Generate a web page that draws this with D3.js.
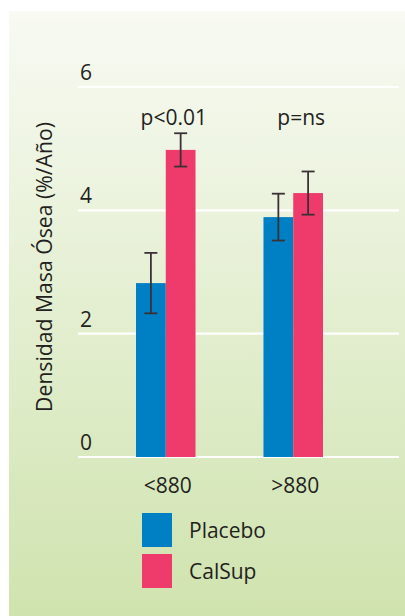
<!DOCTYPE html>
<html><head><meta charset="utf-8">
<script src="https://cdn.jsdelivr.net/npm/d3@7"></script>
<style>html,body{margin:0;padding:0;background:#fff;}svg{display:block;}</style>
</head><body>
<svg id="c" width="405" height="616"></svg>
<script>
const categories = ["<880", ">880"];
const series = ["Placebo", "CalSup"];
const placeboValues = [2.82, 3.89];
const calsupValues = [4.98, 4.28];
const placeboErr = [0.49, 0.38];
const calsupErr = [0.27, 0.35];
const pLabels = ["p<0.01", "p=ns"];
const yTicks = [0, 2, 4, 6];
const colors = ["#0080c4", "#ef3b6c"];

const svg = d3.select("#c");
const defs = svg.append("defs");
const grad = defs.append("linearGradient").attr("id","bg").attr("x1",0).attr("y1",0).attr("x2",0).attr("y2",1);
grad.append("stop").attr("offset","0%").attr("stop-color","#f8faf3");
grad.append("stop").attr("offset","100%").attr("stop-color","#cfe3ae");
svg.append("rect").attr("x",9).attr("y",11).attr("width",396).attr("height",605).attr("fill","url(#bg)");

const font = "'Open Sans', sans-serif";
const fs = 21;
const y = d3.scaleLinear().domain([0,6]).range([457,87]);
const x0 = d3.scaleBand().domain(categories).range([136,323]).paddingInner(0.533).paddingOuter(0);
const x1 = d3.scaleBand().domain(series).range([0, x0.bandwidth()]);

// gridlines
svg.append("g").selectAll("line").data(yTicks).join("line")
  .attr("x1",78).attr("x2",399).attr("y1",d=>y(d)).attr("y2",d=>y(d))
  .attr("stroke","#ffffff").attr("stroke-width",2.2);
svg.append("g").selectAll("text").data(yTicks).join("text")
  .attr("x",80).attr("y",d=>y(d)-7).text(d=>d)
  .attr("font-family",font).attr("font-size",fs).attr("fill","#231f20");

const data = categories.map((c,i)=>({cat:c, vals:[
  {s:"Placebo", v:placeboValues[i], e:placeboErr[i]},
  {s:"CalSup", v:calsupValues[i], e:calsupErr[i]}]}));

const g = svg.append("g").selectAll("g").data(data).join("g")
  .attr("transform",d=>`translate(${x0(d.cat)},0)`);
g.selectAll("rect").data(d=>d.vals).join("rect")
  .attr("x",d=>x1(d.s)).attr("width",x1.bandwidth())
  .attr("y",d=>y(d.v)).attr("height",d=>y(0)-y(d.v))
  .attr("fill",(d,i)=>colors[i]);
const eb = g.selectAll("g.eb").data(d=>d.vals).join("g").attr("class","eb")
  .attr("transform",d=>`translate(${x1(d.s)+x1.bandwidth()/2},0)`);
eb.append("line").attr("y1",d=>y(d.v+d.e)).attr("y2",d=>y(d.v-d.e));
eb.append("line").attr("x1",-6.5).attr("x2",6.5).attr("y1",d=>y(d.v+d.e)).attr("y2",d=>y(d.v+d.e));
eb.append("line").attr("x1",-6.5).attr("x2",6.5).attr("y1",d=>y(d.v-d.e)).attr("y2",d=>y(d.v-d.e));
eb.selectAll("line").attr("stroke","#3b3035").attr("stroke-width",1.8);

// p labels
svg.append("g").selectAll("text").data(categories).join("text")
  .attr("x",d=>x0(d)+x0.bandwidth()/2+8).attr("y",125).attr("text-anchor","middle")
  .text((d,i)=>pLabels[i]).attr("font-family",font).attr("font-size",fs).attr("fill","#231f20");
// category labels
svg.append("g").selectAll("text").data(categories).join("text")
  .attr("x",d=>x0(d)+x0.bandwidth()/2+2).attr("y",493).attr("text-anchor","middle")
  .text(d=>d).attr("font-family",font).attr("font-size",fs).attr("fill","#231f20");

// y title
svg.append("text").attr("transform","translate(52,267) rotate(-90)").attr("text-anchor","middle")
  .text("Densidad Masa Ósea (%/Año)").attr("font-family",font).attr("font-size",21.2).attr("fill","#231f20");

// legend
const lg = svg.append("g").selectAll("g").data(series).join("g")
  .attr("transform",(d,i)=>`translate(142,${513+i*41})`);
lg.append("rect").attr("width",30).attr("height",34).attr("fill",(d,i)=>colors[i]);
lg.append("text").attr("x",47).attr("y",25).text(d=>d)
  .attr("font-family",font).attr("font-size",fs).attr("fill","#231f20");
</script>
</body></html>
